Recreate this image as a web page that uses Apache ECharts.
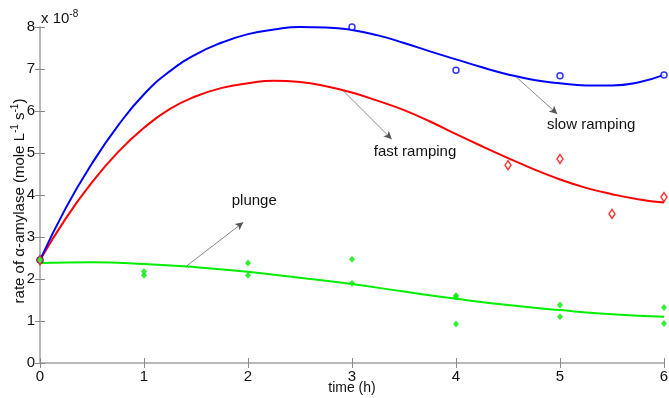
<!DOCTYPE html>
<html>
<head>
<meta charset="utf-8">
<script src="https://cdn.jsdelivr.net/npm/echarts@6/dist/echarts.min.js"></script>
<style>
html, body { margin: 0; padding: 0; background: #fff; }
#main { width: 669px; height: 398px; }
</style>
</head>
<body>
<div id="main"></div>
<script>
// fitted curves, every quarter hour
var curveT = [0, 0.25, 0.5, 0.75, 1, 1.25, 1.5, 1.75, 2, 2.25, 2.5, 2.75, 3,
              3.25, 3.5, 3.75, 4, 4.25, 4.5, 4.75, 5, 5.25, 5.5, 5.75, 6];
var slowCurve = [2.45, 3.70, 4.75, 5.65, 6.40, 6.95, 7.35, 7.63, 7.83, 7.94, 8.0, 7.99, 7.93,
                 7.80, 7.62, 7.42, 7.23, 7.04, 6.87, 6.74, 6.66, 6.61, 6.61, 6.68, 6.86];
var fastCurve = [2.45, 3.45, 4.3, 5.02, 5.6, 6.05, 6.35, 6.55, 6.66, 6.72, 6.69, 6.59, 6.44,
                 6.24, 6.02, 5.75, 5.45, 5.16, 4.88, 4.61, 4.37, 4.17, 4.02, 3.90, 3.82];
var plungeT = [0, 0.5, 1, 1.5, 2, 2.5, 3, 3.5, 4, 4.5, 5, 5.5, 6];
var plungeCurve = [2.38, 2.40, 2.36, 2.28, 2.17, 2.03, 1.88, 1.70, 1.53, 1.38, 1.26, 1.16, 1.10];

// measured points
var slowX = [0, 3, 4, 5, 6];
var slowY = [2.45, 8.0, 6.97, 6.84, 6.86];
var fastX = [0, 4.5, 5, 5.5, 6];
var fastY = [2.45, 4.71, 4.86, 3.55, 3.95];
var plungeX = [0, 1, 1, 2, 2, 3, 3, 4, 4, 4, 5, 5, 6, 6];
var plungeY = [2.46, 2.18, 2.09, 2.38, 2.09, 2.47, 1.9, 1.61, 1.58, 0.93, 1.38, 1.10, 1.32, 0.94];

// annotation arrows: [from, to] in data units, and label positions
var notes = [
    { text: 'slow ramping', from: [4.584, 6.80], to: [4.974, 5.93], at: [5.30, 5.67] },
    { text: 'fast ramping', from: [2.916, 6.48], to: [3.382, 5.33], at: [3.606, 5.02] },
    { text: 'plunge', from: [1.41, 2.31], to: [1.955, 3.35], at: [2.06, 3.86] }
];

function zip(xs, ys) {
    return xs.map(function (x, i) { return [x, ys[i]]; });
}

var font = 'Liberation Sans, Arial, sans-serif';
var axisGray = '#b4b4b4';
var sup = { s: { fontSize: 10, verticalAlign: 'top', padding: [0, 0, 9, 0] } };

var myChart = echarts.init(document.getElementById('main'));

var option = {
    animation: false,
    backgroundColor: '#fff',
    grid: { left: 40, right: 5, top: 27, bottom: 35, containLabel: false, outerBoundsMode: 'none' },
    graphic: [{
        type: 'text',
        left: 41,
        top: 9,
        style: { text: 'x 10{s|-8}', rich: sup, font: '15px ' + font, fill: '#111' }
    }, {
        // y axis title
        type: 'text',
        x: 20, y: 201,
        rotation: Math.PI / 2,
        style: {
            text: 'rate of α-amylase (mole L{s|-1} s{s|-1})',
            rich: sup, font: '15px ' + font, fill: '#111',
            align: 'center', verticalAlign: 'middle'
        }
    }, {
        // x axis title
        type: 'text',
        x: 352, y: 388,
        style: {
            text: 'time (h)', font: '14px ' + font, fill: '#111',
            align: 'center', verticalAlign: 'middle'
        }
    }],
    xAxis: [{
        type: 'value',
        min: 0, max: 6, interval: 1,
        axisLine: { show: true, lineStyle: { color: axisGray, width: 1.5 } },
        axisTick: { show: true, inside: true, length: 5, lineStyle: { color: '#888' } },
        axisLabel: { fontFamily: font, fontSize: 15, color: '#111', margin: 6 },
        splitLine: { show: false }
    }, {
        type: 'value', position: 'top',
        min: 0, max: 6, interval: 1,
        axisLine: { show: true, lineStyle: { color: axisGray, width: 1.5 } },
        axisTick: { show: true, inside: true, length: 5, lineStyle: { color: '#888' } },
        axisLabel: { show: false },
        splitLine: { show: false }
    }],
    yAxis: [{
        type: 'value',
        min: 0, max: 8, interval: 1,
        axisLine: { show: true, lineStyle: { color: axisGray, width: 1.5 } },
        axisTick: { show: true, inside: true, length: 5, lineStyle: { color: '#888' } },
        axisLabel: { fontFamily: font, fontSize: 15, color: '#111', margin: 5 },
        splitLine: { show: false }
    }, {
        type: 'value', position: 'right',
        min: 0, max: 8, interval: 1,
        axisLine: { show: true, lineStyle: { color: axisGray, width: 1.5 } },
        axisTick: { show: true, inside: true, length: 5, lineStyle: { color: '#888' } },
        axisLabel: { show: false },
        splitLine: { show: false }
    }],
    series: [
        {
            type: 'line', smooth: 0.5, showSymbol: false,
            data: zip(curveT, fastCurve),
            lineStyle: { color: '#ff0000', width: 2 }, z: 3
        },
        {
            type: 'line', smooth: 0.5, showSymbol: false,
            data: zip(curveT, slowCurve),
            lineStyle: { color: '#0000ff', width: 2 }, z: 3
        },
        {
            type: 'line', smooth: 0.5, showSymbol: false,
            data: zip(plungeT, plungeCurve),
            lineStyle: { color: '#00ee00', width: 2 }, z: 3,
            markLine: {
                silent: true,
                symbol: ['none', 'arrow'],
                symbolSize: [6, 8],
                lineStyle: { color: '#555', width: 0.7, type: 'solid' },
                label: { show: false },
                data: notes.map(function (n) {
                    return [{ coord: n.from }, { coord: n.to }];
                })
            },
            markPoint: {
                silent: true,
                symbol: 'circle',
                symbolSize: 0,
                label: {
                    show: true, position: 'inside',
                    fontFamily: font, fontSize: 15, color: '#111',
                    formatter: function (p) { return p.name; }
                },
                data: notes.map(function (n) {
                    return { name: n.text, coord: n.at };
                })
            }
        },
        {
            type: 'scatter', data: zip(slowX, slowY),
            symbol: 'circle', symbolSize: 6,
            itemStyle: { color: '#fff', borderColor: '#0000ff', borderWidth: 1.5 }, z: 4
        },
        {
            type: 'scatter', data: zip(fastX, fastY),
            symbol: 'diamond', symbolSize: [6, 9],
            itemStyle: { color: '#fff', borderColor: '#ff0000', borderWidth: 1.5 }, z: 4
        },
        {
            type: 'scatter', data: zip(plungeX, plungeY),
            symbol: 'diamond', symbolSize: [6, 7],
            itemStyle: { color: '#00ee00' }, z: 5
        }
    ]
};

myChart.setOption(option);

window.addEventListener('resize', function () {
    myChart.resize();
});
</script>
</body>
</html>
